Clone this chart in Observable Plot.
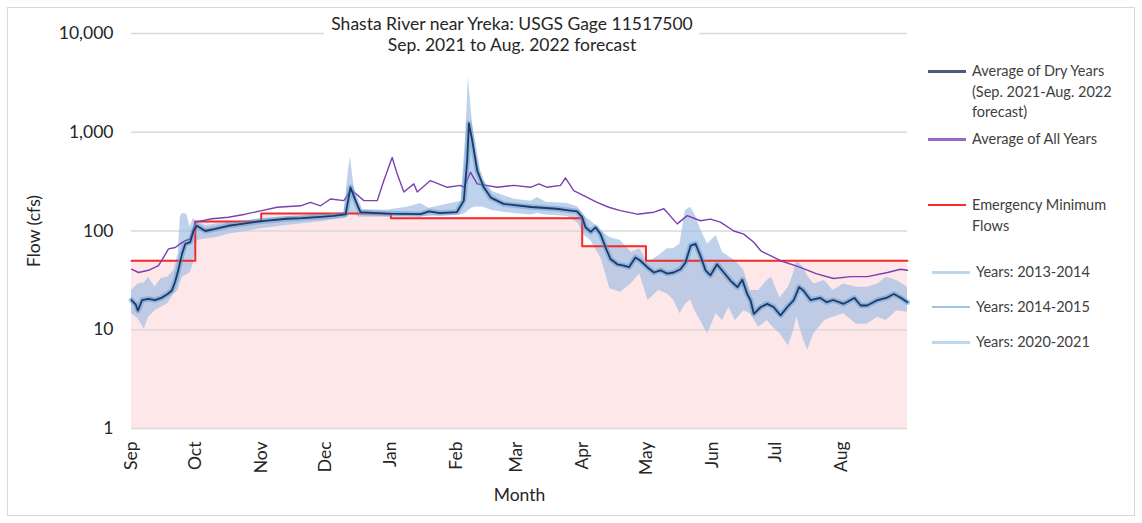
<!DOCTYPE html>
<html><head><meta charset="utf-8">
<script src="https://cdn.jsdelivr.net/npm/d3@7"></script>
<script src="https://cdn.jsdelivr.net/npm/@observablehq/plot@0.6"></script>
<style>
body{margin:0;background:#fff;font-family:Lato,"Open Sans",sans-serif;}
#wrap{position:relative;width:1142px;height:523px;overflow:hidden;}
#frame{position:absolute;left:7px;top:7px;width:1128px;height:509px;border:1px solid #d9d9d9;box-sizing:border-box;pointer-events:none}
#chart{position:absolute;left:0;top:0;}
#title{position:absolute;left:512px;top:13px;transform:translateX(-50%);background:#fff;text-align:center;font-size:17.5px;line-height:21px;color:#262626;padding:0 7px;white-space:nowrap}
#legend{position:absolute;left:928px;top:0;width:214px;height:523px;font-size:14.5px;line-height:20.5px;color:#404040;}
.item{position:absolute;left:0;display:flex;align-items:flex-start;}
.sw{width:38px;height:0;margin-top:9px;margin-right:6px;flex:none}
</style></head>
<body>
<div id="wrap">
  <div id="chart"></div>
  <div id="title">Shasta River near Yreka: USGS Gage 11517500<br>Sep. 2021 to Aug. 2022 forecast</div>
  <div id="legend"></div>
  <div id="frame"></div>
</div>
<script>
// ---- data ----
const monthNames = ["Sep","Oct","Nov","Dec","Jan","Feb","Mar","Apr","May","Jun","Jul","Aug"];
const monthDays  = [0,30,61,91,122,153,181,212,242,273,303,334];
const yTicks = [1,10,100,1000,10000];

// Emergency minimum flows (step)
const minDays = [0,30,61,122,212,242,365];
const minFlow = [50,125,150,135,70,50,50];

// Average of all years
const allDays = [0,3.3,8,12.7,15.9,17.4,20.6,22.9,25.3,27.6,28.4,30,37.8,45.6,53.5,61.3,68.5,79.5,84.2,88.9,93.6,99.9,103,104.6,109.3,115.6,118.7,122.6,125,128.1,132.8,134.4,140.6,148.5,154.8,156.3,159.5,162.6,172,179.8,187.7,191.6,195.5,201.8,204.1,208,212.7,219,224.5,230,237.9,245.7,250.4,256.7,261.4,267.6,272.3,277,283.3,288,292.7,296,305.3,314.3,322,330.2,338.2,346.2,355.6,361.7,365];
const allFlow = [41,38,40,44.6,58,66,68,74,80,83,93,123,133,138,148,161,174,180,195,180,211,203,257,248,203,203,324,555,377,248,300,248,324,277,290,277,393,300,277,290,277,300,277,290,345,257,228,195,174,161,148,155,168,118,143,127,132,123,100,93,77,63,50,43,37,33,34.5,34.5,38,41,40];

// Average of dry years (Sep. 2021-Aug. 2022 forecast)
const dryDays = [0,2,3,5,8,11,14,17,19,20.6,22,23.7,25.3,27.6,29.2,30.7,34.7,39.4,45.6,52,60,65,73,80,89,95,100.7,103,105.4,107.7,120,136,140,145,153,156.3,157.9,158.7,160.3,162.6,165.7,169,175,188,200,206.5,209.6,212,213.5,216,218.3,220.6,223,225.3,228.5,231.6,234,237,239.4,242.6,245.7,248.8,252,255,258.2,260.6,263,265.3,267.6,270,272.3,275.4,278.6,281.7,285,287.3,289.6,291.2,292.7,296,299,302,305.3,308.5,311.5,314,316,319.4,324,327,330,335,340,343,346,351,355,358.6,362,365];
const dryFlow = [20,18,15.6,20,20.5,20,21,23,25,31,40,58,74,77,100,113,100,105,113,118,125,128,133,135,139,142,147,277,203,155,150,148,158,152,155,203,517,1230,820,410,277,218,188,175,168,161,158,138,109,98,109,93,68,52,46,44.6,43,54,50,43,38,40,37,38,41,48,71,74,56,40,35.5,46,38,31.5,27,32,23,19.8,14.5,17,18.3,17,14,17,20,27,25,20,21,19,20,18.3,21,17.6,17.6,20,21,23,21,19];

// Envelope of the individual years 2013-2014, 2014-2015, 2020-2021
const bandDays = [0,3,6,8,11,14,17,20,22,23,24,26,27.6,29,31,35,40,46,55,60,75,90,100,102,103,104.5,107,120,130,136,140,155,157,158.5,160,162,165,170,180,188,191,195,205,210,213,216,221,225,230,235,239,243,248,252,255,258,260.5,263,265,268,271,275,278,281,284,288,291,295,299,301,305,309,311,313,316,318,321,326,330,335,341,346,351,355,360,365];
const bandLow  = [14.5,13,10.2,13.4,15.6,16.9,18.3,23,25,30,34,36,38,46,80,83,86,93,100,105,115,125,135,140,150,150,138,138,140,140,140,145,150,160,170,175,175,160,150,145,150,145,140,120,90,80,52,26,24,29,37,19.8,25,23,20,14.5,18,20,15.6,12,9.1,14.5,12.4,16.9,12.4,15.6,14.5,10.6,12.4,11,9.1,6.9,9.1,13.4,8,6.2,9.1,12.4,13.4,14.5,11.4,11.4,13.4,12.4,15.6,15];
const bandHigh = [25,29,30,34,27,33,34,40,60,140,150,148,109,133,125,113,118,123,128,133,140,148,152,400,560,300,165,162,175,190,170,200,800,3600,1500,600,330,250,210,200,218,195,190,175,140,127,100,86,80,61,66,48,56,66,66,74,161,174,148,100,74,90,61,55,50,40,25,25,31.5,34,21,27,35,50,43,35,29,31.5,25,29,27,27,29,34,31.5,27];

// ---- tables built from the arrays ----
const minData  = minDays.map((d,i)=>({day:d, v:minFlow[i]}));
const allData  = allDays.map((d,i)=>({day:d, v:allFlow[i]}));
const dryData  = dryDays.map((d,i)=>({day:d, v:dryFlow[i]}));
const bandData = bandDays.map((d,i)=>({day:d, lo:bandLow[i], hi:bandHigh[i]}));

const C = {pink:"#fde7e8", red:"#f22a2a", purple:"#7b3fb0", band:"#a4bfe2", halo:"#5b9bd5", dry:"#1f3864", grid:"#d9d9d9"};

const chart = Plot.plot({
  width: 915, height: 523,
  marginLeft: 131, marginRight: 8, marginTop: 33, marginBottom: 95,
  style: {fontFamily: "Lato, 'Open Sans', sans-serif", fontSize: "17.5px", color: "#262626", background: "transparent", overflow: "visible"},
  x: {domain: [0,365], ticks: monthDays, tickFormat: d => monthNames[monthDays.indexOf(d)], tickRotate: -90, tickSize: 0, tickPadding: 13,
      label: "Month", labelAnchor: "center", labelArrow: "none", labelOffset: 72},
  y: {type: "log", domain: [1,10000], ticks: yTicks, tickFormat: d3.format(","), tickSize: 0, tickPadding: 18,
      label: "Flow (cfs)", labelAnchor: "center", labelArrow: "none", labelOffset: 104},
  marks: [
    Plot.areaY(minData, {x:"day", y1: 1, y2:"v", curve:"step-after", fill: C.pink}),
    Plot.ruleY(yTicks, {stroke: C.grid, strokeWidth: 1.4}),
    Plot.areaY(bandData, {x:"day", y1:"lo", y2:"hi", fill: C.band, fillOpacity: 0.7}),
    Plot.line(minData, {x:"day", y:"v", curve:"step-after", stroke: C.red, strokeWidth: 2}),
    Plot.line(allData, {x:"day", y:"v", stroke: C.purple, strokeWidth: 1.4}),
    Plot.line(dryData, {x:"day", y:"v", stroke: C.halo, strokeWidth: 5.5, strokeOpacity: 0.5, strokeLinejoin:"round"}),
    Plot.line(dryData, {x:"day", y:"v", stroke: C.dry, strokeWidth: 1.8, strokeLinejoin:"round"})
  ]
});
document.getElementById("chart").appendChild(chart);

// ---- legend ----
const legendItems = [
  {top: 61,  lines: ["Average of Dry Years","(Sep. 2021-Aug. 2022","forecast)"], color: "#4a5a80", w: 3},
  {top: 129, lines: ["Average of All Years"], color: "#9468c4", w: 3},
  {top: 195, lines: ["Emergency Minimum","Flows"], color: "#f03030", w: 2},
  {top: 262, lines: ["Years: 2013-2014"], color: "#bdd7ee", w: 3, pad: 4},
  {top: 297, lines: ["Years: 2014-2015"], color: "#9dc3e6", w: 2, pad: 4},
  {top: 332, lines: ["Years: 2020-2021"], color: "#bdd7ee", w: 3, pad: 4}
];
const leg = document.getElementById("legend");
for (const it of legendItems) {
  const div = document.createElement("div");
  div.className = "item";
  div.style.top = it.top + "px";
  const sw = document.createElement("div");
  sw.className = "sw";
  sw.style.borderTop = `${it.w}px solid ${it.color}`;
  if (it.pad) sw.style.marginLeft = it.pad + "px";
  const tx = document.createElement("div");
  tx.innerHTML = it.lines.join("<br>");
  div.appendChild(sw); div.appendChild(tx);
  leg.appendChild(div);
}
</script>
</body></html>
